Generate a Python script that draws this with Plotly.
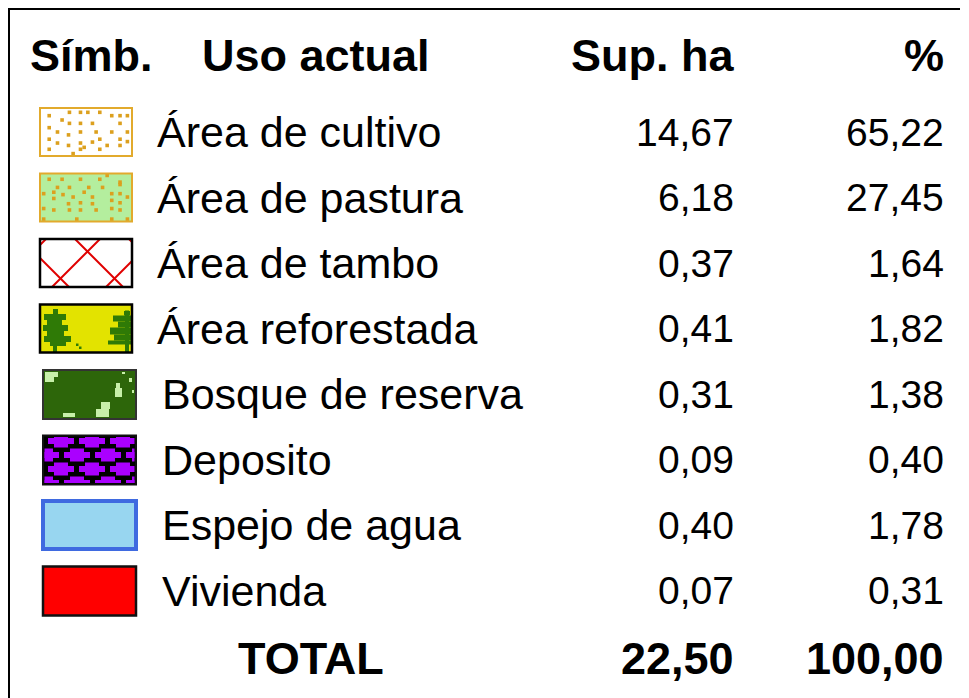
import plotly.graph_objects as go

# ---------------- data ----------------
headers = ["Símb.", "Uso actual", "Sup. ha", "%"]
categories = ["Área de cultivo", "Área de pastura", "Área de tambo", "Área reforestada",
              "Bosque de reserva", "Deposito", "Espejo de agua", "Vivienda"]
sup_ha = [14.67, 6.18, 0.37, 0.41, 0.31, 0.09, 0.40, 0.07]
pct = [65.22, 27.45, 1.64, 1.82, 1.38, 0.40, 1.78, 0.31]
total_label = "TOTAL"
total_ha = 22.50
total_pct = 100.00


def fmt(v):
    return f"{v:.2f}".replace(".", ",")


# ---------------- layout helpers ----------------
W, H = 969, 698
OFF = 8  # page body margin: shift the coordinate system so page pixels == data units
FONT = "Arial, 'Liberation Sans', sans-serif"
shapes = []
annotations = []


def rect(x0, y0, x1, y1, fill=None, line=None, lw=0):
    shapes.append(dict(type="rect", xref="x", yref="y", x0=x0, y0=y0, x1=x1, y1=y1,
                       fillcolor=fill if fill else "rgba(0,0,0,0)",
                       line=dict(color=line if line else "rgba(0,0,0,0)", width=lw),
                       layer="above"))


def clip_rect(r, box):
    x0 = max(r[0], box[0]); y0 = max(r[1], box[1])
    x1 = min(r[2], box[2]); y1 = min(r[3], box[3])
    if x1 > x0 and y1 > y0:
        return (x0, y0, x1, y1)
    return None


def line(x0, y0, x1, y1, color, width):
    shapes.append(dict(type="line", xref="x", yref="y", x0=x0, y0=y0, x1=x1, y1=y1,
                       line=dict(color=color, width=width), layer="above"))


def text(x, y, s, size, anchor="left", bold=False):
    annotations.append(dict(x=x, y=y, xref="x", yref="y", text=s, showarrow=False,
                            xanchor=anchor, yanchor="middle",
                            font=dict(family=FONT, size=size, color="black",
                                      weight="bold" if bold else "normal")))


ORANGE = "#DCA01E"
ORANGE_BORDER = "#E2AA2C"

dots_cultivo = [(0.10, 0.16), (0.32, 0.09), (0.44, 0.09), (0.52, 0.09), (0.65, 0.09), (0.87, 0.16),
                (0.95, 0.16), (0.24, 0.25), (0.32, 0.32), (0.44, 0.32), (0.57, 0.32), (0.78, 0.16),
                (0.87, 0.32), (0.10, 0.41), (0.19, 0.50), (0.31, 0.56), (0.44, 0.50), (0.61, 0.50),
                (0.78, 0.50), (0.95, 0.50), (0.10, 0.65), (0.19, 0.73), (0.31, 0.78), (0.44, 0.73),
                (0.57, 0.71), (0.65, 0.65), (0.87, 0.65), (0.10, 0.86), (0.36, 0.95), (0.44, 0.86),
                (0.48, 0.82), (0.65, 0.86), (0.73, 0.78), (0.87, 0.78), (0.95, 0.70)]
dots_pastura = [(0.10, 0.12), (0.24, 0.12), (0.44, 0.12), (0.65, 0.12), (0.73, 0.04), (0.87, 0.18),
                (0.19, 0.29), (0.32, 0.29), (0.53, 0.29), (0.68, 0.29), (0.87, 0.23), (0.04, 0.42),
                (0.15, 0.39), (0.25, 0.44), (0.36, 0.49), (0.48, 0.39), (0.57, 0.49), (0.78, 0.42),
                (0.87, 0.42), (0.95, 0.49), (0.15, 0.52), (0.31, 0.63), (0.44, 0.61), (0.57, 0.63),
                (0.78, 0.56), (0.87, 0.61), (0.04, 0.73), (0.15, 0.76), (0.32, 0.76), (0.44, 0.76),
                (0.61, 0.76), (0.78, 0.73), (0.87, 0.76), (0.04, 0.95), (0.40, 0.95), (0.78, 0.95),
                (0.95, 0.95)]


def sym_dots(x0, y0, w, h, bg, dots):
    rect(x0, y0, x0 + w, y0 + h, fill=bg)
    s = 3.6
    for fx, fy in dots:
        cx = x0 + fx * w; cy = y0 + fy * h
        r = clip_rect((cx - s / 2, cy - s / 2, cx + s / 2, cy + s / 2), (x0, y0, x0 + w, y0 + h))
        if r:
            rect(*r, fill=ORANGE)
    rect(x0, y0, x0 + w, y0 + h, line=ORANGE_BORDER, lw=2)


def sym_tambo(x0, y0, w, h):
    rect(x0, y0, x0 + w, y0 + h, fill="white")
    red = "#E00000"
    for c in (-19, 35, 89):   # "\" lines: x - y = c
        xa, xb = max(0, c), min(w, h + c)
        if xb > xa:
            line(x0 + xa, y0 + xa - c, x0 + xb, y0 + xb - c, red, 2)
    for d in (6, 60, 114):    # "/" lines: x + y = d
        xa, xb = max(0, d - h), min(w, d)
        if xb > xa:
            line(x0 + xa, y0 + d - xa, x0 + xb, y0 + d - xb, red, 2)
    rect(x0, y0, x0 + w, y0 + h, line="black", lw=2.5)


def sym_reforest(x0, y0, w, h):
    rect(x0, y0, x0 + w, y0 + h, fill="#E3E300")
    g = "#2F7A06"
    parts = [(13, 4.5, 18, 9.5), (4, 9.5, 26, 15.5), (7, 15.5, 22, 20.5), (3, 20.5, 28, 26.5),
             (7, 26.5, 24, 31.5), (4, 31.5, 31, 37.5), (10, 37.5, 26, 41.5), (13, 9, 17, 49),
             (36, 39, 38.5, 41.5), (39, 42, 41.5, 44.5),
             (84, 6.5, 90, 11), (73, 11, 92, 17), (78, 17, 92, 23), (70, 23, 92, 30),
             (74, 30, 92, 36), (68, 36, 92, 40), (85, 6, 89, 49)]
    for p in parts:
        r = clip_rect((x0 + p[0], y0 + p[1], x0 + p[2], y0 + p[3]), (x0, y0, x0 + w, y0 + h))
        if r:
            rect(*r, fill=g)
    rect(x0, y0, x0 + w, y0 + h, line="black", lw=2.5)


def sym_bosque(x0, y0, w, h):
    rect(x0, y0, x0 + w, y0 + h, fill="#2D660A")
    lg = "#C8F0AA"
    parts = [(2, 2, 15, 7), (2, 7, 11, 12), (79, 2, 82, 4), (86, 8, 89, 12),
             (73, 13, 77, 18), (72, 18, 79, 27), (89, 20, 91, 23),
             (58, 32, 67, 39), (53, 39, 66, 47), (20, 43, 32, 47)]
    for p in parts:
        rect(x0 + p[0], y0 + p[1], x0 + p[2], y0 + p[3], fill=lg)
    rect(x0, y0, x0 + w, y0 + h, line="#333333", lw=2)


def sym_deposito(x0, y0, w, h):
    rect(x0, y0, x0 + w, y0 + h, fill="black")
    purple = "#AA00FF"
    box = (x0 + 1.5, y0 + 1.5, x0 + w - 1.5, y0 + h - 1.5)
    rows = [(5.5, (18, 49, 80)), (19.5, (3, 34, 65, 96)), (33.5, (18, 49, 80)),
            (47.5, (3, 34, 65, 96))]
    for cyr, xs in rows:
        for cxr in xs:
            cx, cy = x0 + cxr, y0 + cyr
            for r in ((cx - 13, cy - 3, cx + 13, cy + 3), (cx - 7, cy - 6.5, cx + 7, cy + 6.5)):
                rc = clip_rect(r, box)
                if rc:
                    rect(*rc, fill=purple)
    rect(x0, y0, x0 + w, y0 + h, line="#111111", lw=2)


def sym_agua(x0, y0, w, h):
    rect(x0, y0, x0 + w, y0 + h, fill="#98D6F0", line="#3F6AE0", lw=4)


def sym_vivienda(x0, y0, w, h):
    rect(x0, y0, x0 + w, y0 + h, fill="#FF0000", line="#111111", lw=2.5)


# ---------------- build table ----------------
header_y = 55
row_y0, row_step = 132, 65.5
sym_w, sym_h = 92, 48

# panel frame (left and top edges)
line(9, 9, 9, H + OFF, "black", 2)
line(8, 9, 960, 9, "black", 2)

text(28, header_y, headers[0], 45, "left", True)
text(200, header_y, headers[1], 45, "left", True)
text(736, header_y, headers[2], 45, "right", True)
text(946, header_y, headers[3], 45, "right", True)

drawers = [
    lambda x, y: sym_dots(x, y, sym_w, sym_h, "white", dots_cultivo),
    lambda x, y: sym_dots(x, y, sym_w, sym_h, "#B4EE9E", dots_pastura),
    lambda x, y: sym_tambo(x, y, sym_w, sym_h),
    lambda x, y: sym_reforest(x, y, sym_w, sym_h),
    lambda x, y: sym_bosque(x, y, sym_w + 1, sym_h + 1),
    lambda x, y: sym_deposito(x, y, sym_w + 1, sym_h + 1),
    lambda x, y: sym_agua(x, y, sym_w + 1, sym_h),
    lambda x, y: sym_vivienda(x, y, sym_w + 1, sym_h + 1),
]

for i, (cat, ha, p) in enumerate(zip(categories, sup_ha, pct)):
    cy = row_y0 + i * row_step
    sx = 40 if i < 4 else 43
    drawers[i](sx, cy - sym_h / 2)
    tx = 155 if i < 4 else 160
    text(tx, cy, cat, 43)
    text(736, cy, fmt(ha), 39, "right")
    text(946, cy, fmt(p), 39, "right")

total_y = 658
text(311, total_y, total_label, 45, "center", True)
text(736, total_y, fmt(total_ha), 45, "right", True)
text(946, total_y, fmt(total_pct), 45, "right", True)

fig = go.Figure()
fig.update_layout(
    width=W, height=H,
    margin=dict(l=0, r=0, t=0, b=0),
    paper_bgcolor="white", plot_bgcolor="white",
    xaxis=dict(range=[OFF, W + OFF], visible=False, fixedrange=True),
    yaxis=dict(range=[H + OFF, OFF], visible=False, fixedrange=True),
    shapes=shapes, annotations=annotations, showlegend=False,
)
fig.write_html("out.html", config={"displayModeBar": False})
